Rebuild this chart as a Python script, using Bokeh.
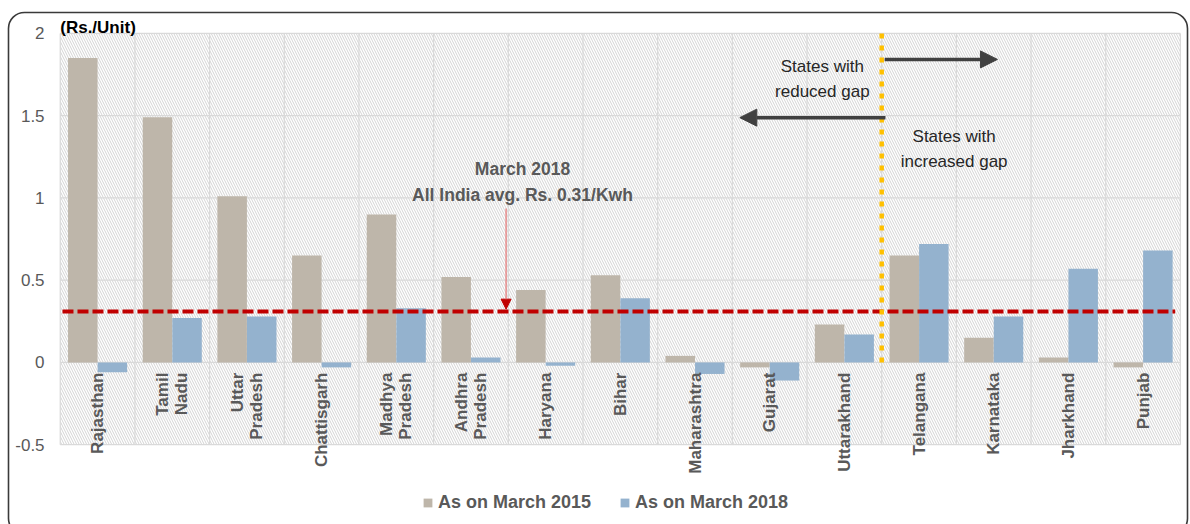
import math
from bokeh.plotting import figure
from bokeh.core.properties import value
from bokeh.models import (Range1d, ColumnDataSource, Label, Arrow, NormalHead,
                          BoxAnnotation, Legend, LegendItem)
from bokeh.transform import dodge
from bokeh.embed import file_html
from bokeh.resources import INLINE

# Gap between average cost of supply and realisable revenue, by state (Rs./Unit)
states = ["Rajasthan", "Tamil\nNadu", "Uttar\nPradesh", "Chattisgarh", "Madhya\nPradesh",
          "Andhra\nPradesh", "Haryana", "Bihar", "Maharashtra", "Gujarat", "Uttarakhand",
          "Telangana", "Karnataka", "Jharkhand", "Punjab"]
gap_2015 = [1.85, 1.49, 1.01, 0.65, 0.90, 0.52, 0.44, 0.53, 0.04, -0.03, 0.23, 0.65, 0.15, 0.03, -0.03]
gap_2018 = [-0.06, 0.27, 0.28, -0.03, 0.33, 0.03, -0.02, 0.39, -0.07, -0.11, 0.17, 0.72, 0.28, 0.57, 0.68]
y_ticks = [-0.5, 0, 0.5, 1, 1.5, 2]
y_tick_labels = ["-0.5", "0", "0.5", "1", "1.5", "2"]
avg_2018 = 0.31          # all-India average gap, March 2018
n_reduced = 11           # first states (left of the divider) reduced their gap

FONT = "Liberation Sans"
GREY = "#595959"
GRID = "#D9D9D9"
C2015 = "#BEB6AA"
C2018 = "#94B2CE"

n = len(states)
pos = [i + 0.5 for i in range(n)]
src = ColumnDataSource(dict(pos=pos, state=states, g15=gap_2015, g18=gap_2018))

# the frame fills the whole canvas; the value area spans x 0..n, y -0.5..2
p = figure(width=1190, height=524, output_backend="svg", toolbar_location=None,
           x_range=Range1d(-0.80, n + 0.135), y_range=Range1d(-0.985, 2.2),
           min_border=0)
p.axis.visible = False
p.grid.visible = False
p.outline_line_color = None
p.background_fill_color = "white"
p.border_fill_color = "white"

lo, hi = y_ticks[0], y_ticks[-1]

# hatched value area
p.add_layout(BoxAnnotation(left=0, right=n, bottom=lo, top=hi, fill_alpha=0, line_alpha=0,
                           hatch_pattern="left_diagonal_line", hatch_color="#D3D3D3",
                           hatch_scale=5, hatch_weight=1, level="image"))

# grid lines: horizontal at ticks, vertical between categories
p.multi_line(xs=[[0, n] for _ in y_ticks], ys=[[t, t] for t in y_ticks],
             line_color=GRID, line_width=1.2)
p.multi_line(xs=[[k, k] for k in range(n + 1)], ys=[[lo, hi] for _ in range(n + 1)],
             line_color=GRID, line_width=1.2)

# y tick labels
p.text(x=[-0.21] * len(y_ticks), y=y_ticks, text=y_tick_labels, text_align="right",
       text_baseline="middle", text_font=value(FONT), text_font_size="17px",
       text_color=GREY)

r15 = p.vbar(x=dodge("pos", -0.198), top="g15", bottom=0, width=0.395, source=src,
             fill_color=C2015, line_color=None)
r18 = p.vbar(x=dodge("pos", 0.198), top="g18", bottom=0, width=0.395, source=src,
             fill_color=C2018, line_color=None)

# category labels, vertical, hanging below the zero line
p.text(x="pos", y=-0.062, text="state", source=src, angle=math.pi / 2,
       text_align="right", text_baseline="middle", text_font=value(FONT),
       text_font_size="17px", text_font_style="bold", text_color=GREY,
       text_line_height=1.0)

# all-India average line
p.segment(x0=[0.03], y0=[avg_2018], x1=[n - 0.07], y1=[avg_2018],
          line_color="#C00000", line_width=4, line_dash="11 4")

# divider between reduced / increased gap states
p.segment(x0=[n_reduced], y0=[hi], x1=[n_reduced], y1=[0],
          line_color="#FFC000", line_width=4.5, line_dash="5 7")

# direction arrows
p.add_layout(Arrow(x_start=n_reduced + 0.04, y_start=1.842, x_end=n_reduced + 1.55, y_end=1.842,
                   line_color="#404040", line_width=3.5,
                   end=NormalHead(size=17, fill_color="#404040", line_color="#404040")))
p.add_layout(Arrow(x_start=n_reduced + 0.05, y_start=1.488, x_end=n_reduced - 1.9, y_end=1.488,
                   line_color="#404040", line_width=3.5,
                   end=NormalHead(size=17, fill_color="#404040", line_color="#404040")))

p.add_layout(Label(x=10.205, y=1.723, text="States with\nreduced gap", text_align="center",
                   text_baseline="middle", text_font=FONT, text_font_size="17px",
                   text_color="#262626", text_line_height=1.35))
p.add_layout(Label(x=11.97, y=1.298, text="States with\nincreased gap", text_align="center",
                   text_baseline="middle", text_font=FONT, text_font_size="17px",
                   text_color="#262626", text_line_height=1.35))

# average callout
p.add_layout(Label(x=6.19, y=1.097, text=f"March 2018\nAll India avg. Rs. {avg_2018}/Kwh",
                   text_align="center", text_baseline="middle", text_font=FONT,
                   text_font_size="17.5px", text_font_style="bold", text_color=GREY,
                   text_line_height=1.3))
p.add_layout(Arrow(x_start=5.97, y_start=0.936, x_end=5.97, y_end=avg_2018 + 0.014,
                   line_color="#E57373", line_width=1.2,
                   end=NormalHead(size=10, fill_color="#C00000", line_color="#C00000")))

# unit label
p.add_layout(Label(x=0, y=hi, text="(Rs./Unit)", x_offset=0, y_offset=-4,
                   text_font=FONT, text_font_size="17px", text_font_style="bold",
                   text_color="black", text_baseline="bottom"))

legend = Legend(items=[LegendItem(label="As on March 2015", renderers=[r15]),
                       LegendItem(label="As on March 2018", renderers=[r18])],
                orientation="horizontal", location=(422, 11),
                glyph_width=11, glyph_height=11, label_standoff=5, spacing=28,
                padding=0, margin=0, border_line_color=None, background_fill_alpha=0,
                label_text_font=FONT, label_text_font_size="18px",
                label_text_font_style="bold", label_text_color=GREY)
p.add_layout(legend)

# rounded chart border
p.add_layout(BoxAnnotation(left=8, right=1187, top=12, bottom=534,
                           left_units="canvas", right_units="canvas",
                           top_units="canvas", bottom_units="canvas",
                           fill_alpha=0, line_color="#3A3A3A", line_alpha=1.0,
                           line_width=1.6, border_radius=16, level="overlay"))

open("out.html", "w").write(file_html(p, INLINE))
